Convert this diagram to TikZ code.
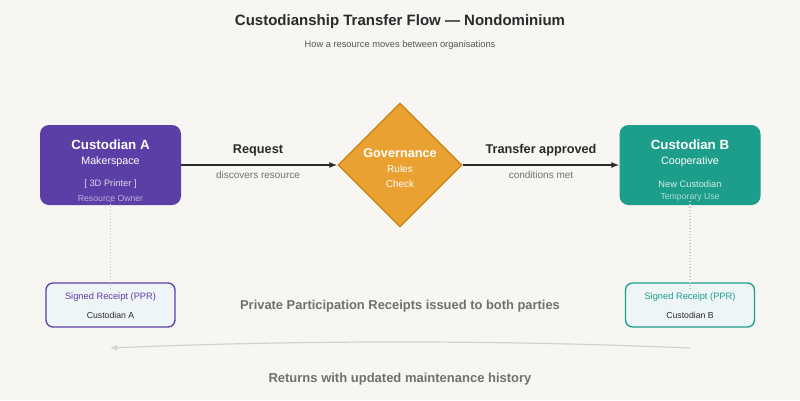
\documentclass[tikz,border=0pt]{standalone}
\usepackage{fontspec}
\setmainfont{Liberation Sans}
\usetikzlibrary{shapes.geometric,arrows.meta}
\definecolor{bg}{HTML}{F7F6F3}
\definecolor{purp}{HTML}{5B3FA6}
\definecolor{teal}{HTML}{1C9E8B}
\definecolor{gold}{HTML}{E9A132}
\definecolor{goldd}{HTML}{C98416}
\definecolor{ink}{HTML}{2A2A2A}
\definecolor{mute}{HTML}{707070}
\definecolor{rcpt}{HTML}{EEF5F7}
\begin{document}
\begin{tikzpicture}[x=1pt,y=-1pt,
  cust/.style={rounded corners=9pt,minimum width=141pt,minimum height=80pt,inner sep=0pt},
  rec/.style={draw,line width=1.3pt,fill=rcpt,rounded corners=7pt,minimum width=129pt,minimum height=44pt,inner sep=0pt},
  flow/.style={line width=1.5pt,ink,-{Latex[length=8pt,width=6pt]}},
  dots/.style={gray!45,line width=1.5pt,dash pattern=on 1pt off 2pt}]
\fill[bg] (0,0) rectangle (800,400);
\node (title) at (400,22) {\fontsize{15}{17}\selectfont\bfseries\color{ink}Custodianship Transfer Flow — Nondominium};
\node (sub) at (400,45) {\fontsize{9.3}{11}\selectfont\color{ink!80}How a resource moves between organisations};
\node[cust,fill=purp] (A) at (110.5,165) {};
\node[text=white] (At) at (110.5,145) {\fontsize{13.3}{15}\selectfont\bfseries Custodian A};
\node[text=white] (As) at (110.5,162) {\fontsize{10.7}{12}\selectfont Makerspace};
\node[text=white!80!purp] (Ar) at (110.5,184) {\fontsize{9.3}{11}\selectfont [ 3D Printer ]};
\node[text=white!60!purp] (Ao) at (110.5,198) {\fontsize{8.7}{10}\selectfont Resource Owner};
\node[cust,fill=teal] (B) at (690,165) {};
\node[text=white] (Bt) at (690,145) {\fontsize{13.3}{15}\selectfont\bfseries Custodian B};
\node[text=white] (Bs) at (690,162) {\fontsize{10.7}{12}\selectfont Cooperative};
\node[text=white!80!teal] (Bn) at (690,184) {\fontsize{9.3}{11}\selectfont New Custodian};
\node[text=white!65!teal] (Bu) at (690,197) {\fontsize{8.7}{10}\selectfont Temporary Use};
\node[diamond,fill=gold,draw=goldd,line width=1.3pt,minimum width=124pt,minimum height=124pt,inner sep=0pt] (G) at (400,165) {};
\node[text=white] (Gt) at (400,153) {\fontsize{12.7}{14}\selectfont\bfseries Governance};
\node[text=white] (Gr) at (400,169) {\fontsize{10}{12}\selectfont Rules};
\node[text=white] (Gc) at (400,184) {\fontsize{10}{12}\selectfont Check};
\draw[flow] (A.east) -- (G.west);
\draw[flow] (G.east) -- (B.west);
\node (rq) at (258,150) {\fontsize{12.7}{14}\selectfont\bfseries\color{ink}Request};
\node (rqs) at (258,175) {\fontsize{10}{12}\selectfont\color{mute}discovers resource};
\node (ta) at (541,150) {\fontsize{12.7}{14}\selectfont\bfseries\color{ink}Transfer approved};
\node (tas) at (541,175) {\fontsize{10}{12}\selectfont\color{mute}conditions met};
\node[rec,draw=purp] (RA) at (110.5,305) {};
\node (RAt) at (110.5,297) {\fontsize{9.3}{11}\selectfont\color{purp}Signed Receipt (PPR)};
\node (RAs) at (110.5,315) {\fontsize{8.7}{10}\selectfont\color{ink}Custodian A};
\node[rec,draw=teal] (RB) at (690,305) {};
\node (RBt) at (690,297) {\fontsize{9.3}{11}\selectfont\color{teal}Signed Receipt (PPR)};
\node (RBs) at (690,315) {\fontsize{8.7}{10}\selectfont\color{ink}Custodian B};
\draw[dots] ([yshift=4pt]A.south) -- ([yshift=-8pt]RA.north);
\draw[dots] ([yshift=4pt]B.south) -- ([yshift=-8pt]RB.north);
\node (mid) at (400,306) {\fontsize{12.9}{15}\selectfont\bfseries\color{mute}Private Participation Receipts issued to both parties};
\coordinate (e1) at (690,348);
\coordinate (e2) at (110,348);
\draw[gray!35,line width=1.2pt,-{Latex[length=7pt,width=6pt]}] (e1) .. controls (500,340) and (300,340) .. (e2);
\node (ret) at (400,379) {\fontsize{13}{15}\selectfont\bfseries\color{mute}Returns with updated maintenance history};
\end{tikzpicture}
\end{document}
